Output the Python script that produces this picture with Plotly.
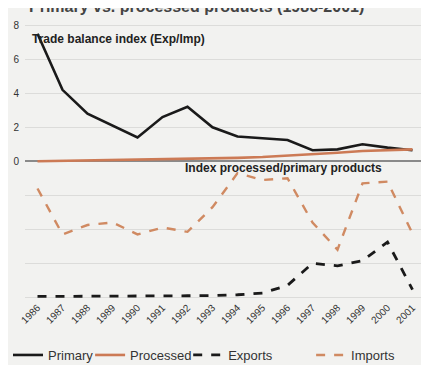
import plotly.graph_objects as go

years = [str(y) for y in range(1986, 2002)]
primary = [7.5, 4.2, 2.8, 2.1, 1.4, 2.6, 3.2, 2.0, 1.45, 1.35, 1.25, 0.65, 0.7, 1.0, 0.8, 0.65]
processed = [0.0, 0.02, 0.04, 0.06, 0.08, 0.1, 0.13, 0.16, 0.2, 0.25, 0.32, 0.4, 0.5, 0.6, 0.65, 0.7]
exports = [0.05, 0.05, 0.06, 0.06, 0.07, 0.07, 0.09, 0.1, 0.15, 0.25, 0.7, 2.0, 1.85, 2.15, 3.25, 0.45]
imports = [6.4, 3.7, 4.25, 4.4, 3.7, 4.1, 3.85, 5.3, 7.3, 6.9, 7.0, 4.4, 2.8, 6.7, 6.8, 3.75]
y_tickvals = [-8, -6, -4, -2, 0, 2, 4, 6, 8]
y_ticktext = ["", "", "", "", "0", "2", "4", "6", "8"]

fig = go.Figure()
fig.add_trace(go.Scatter(x=years, y=primary, name="Primary", mode="lines", legend="legend",
                         line=dict(color="#1a1a1a", width=2.6)))
fig.add_trace(go.Scatter(x=years, y=processed, name="Processed", mode="lines", legend="legend2",
                         line=dict(color="#cc7a55", width=2.6)))
fig.add_trace(go.Scatter(x=years, y=exports, name="Exports", mode="lines", yaxis="y2",
                         legend="legend3",
                         line=dict(color="#1a1a1a", width=2.8, dash="dash")))
fig.add_trace(go.Scatter(x=years, y=imports, name="Imports", mode="lines", yaxis="y2",
                         legend="legend4",
                         line=dict(color="#d08a62", width=2.4, dash="dash")))

def leg(xpos):
    return dict(orientation="h", xref="container", yref="container",
                x=xpos, y=0.07, xanchor="left", yanchor="top",
                font=dict(size=13, color="#333"), bgcolor="rgba(0,0,0,0)",
                itemwidth=30)

fig.update_layout(
    width=421, height=357,
    margin=dict(l=17, r=4, t=7, b=66),
    paper_bgcolor="#f2f2f0", plot_bgcolor="#f2f2f0",
    font=dict(family="Liberation Sans, Arial, sans-serif", color="#333", size=11),
    showlegend=True,
    legend=leg(-0.015), legend2=leg(0.195), legend3=leg(0.428), legend4=leg(0.72),
    xaxis=dict(type="category", range=[-0.5, 15.5], tickangle=-45, showgrid=False,
               ticks="", tickfont=dict(size=10, color="#333"), showline=False,
               automargin=False),
    yaxis=dict(range=[-8.1, 8.6], tickvals=y_tickvals, ticktext=y_ticktext,
               showgrid=True, gridcolor="#dcdcda", gridwidth=1,
               zeroline=True, zerolinecolor="#8a8a8a", zerolinewidth=1.5,
               tickfont=dict(size=10, color="#333"), ticks="", showline=False,
               ticklabelstandoff=5, automargin=False),
    yaxis2=dict(range=[-0.1, 16.6], overlaying="y", visible=False, showgrid=False,
                zeroline=False, automargin=False),
)

fig.add_annotation(text="<b>Trade balance index (Exp/Imp)</b>", xref="paper", yref="y",
                   x=0.012, y=7.2, xanchor="left", yanchor="middle", showarrow=False,
                   font=dict(size=12, color="#222"))
fig.add_annotation(text="<b>Index processed/primary products</b>", xref="paper", yref="y",
                   x=0.395, y=-0.4, xanchor="left", yanchor="middle", showarrow=False,
                   font=dict(size=12, color="#222"))
fig.add_annotation(text="<b>Primary vs. processed products (1986-2001)</b>", xref="paper",
                   yref="paper", x=0.005, y=1.03, xanchor="left", yanchor="middle",
                   showarrow=False, font=dict(size=16, color="#444"))

fig.write_html("out.html")
